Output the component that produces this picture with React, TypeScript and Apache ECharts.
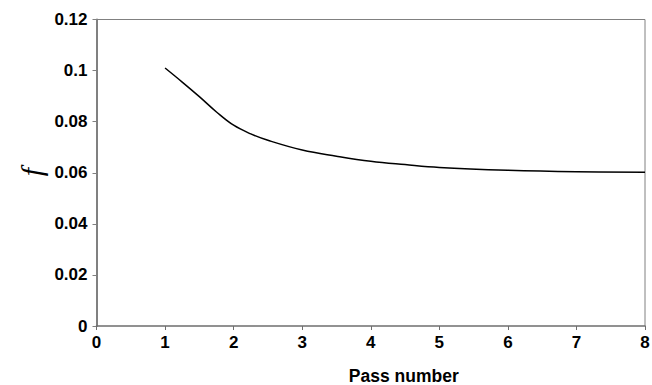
import React, { useEffect, useRef } from "react";
import * as echarts from "echarts";

const passNumbers = [1, 1.25, 1.5, 1.75, 2, 2.25, 2.5, 3, 3.5, 4, 4.5, 5, 6, 7, 8];
const fValues = [0.101, 0.0955, 0.0898, 0.0838, 0.0786, 0.0752, 0.0727, 0.0689, 0.0665, 0.0645, 0.0632, 0.0621, 0.061, 0.0604, 0.0602];
const xTicks = [0, 1, 2, 3, 4, 5, 6, 7, 8];
const yTicks = [0, 0.02, 0.04, 0.06, 0.08, 0.1, 0.12];

export default function App() {
  const ref = useRef<HTMLDivElement>(null);
  useEffect(() => {
    const chart = echarts.init(ref.current!, null, { renderer: "svg" });
    const labelStyle = {
      color: "#000",
      fontFamily: "Liberation Sans, Arial, sans-serif",
      fontWeight: "bold" as const,
      fontSize: 17,
    };
    chart.setOption({
      animation: false,
      backgroundColor: "#fff",
      grid: {
        left: 96.5,
        top: 19.5,
        right: 7,
        bottom: 59,
        show: false,
        containLabel: false,
        outerBoundsMode: "none",
      },
      xAxis: {
        type: "value",
        min: xTicks[0],
        max: xTicks[xTicks.length - 1],
        interval: 1,
        name: "Pass number",
        nameLocation: "middle",
        nameGap: 41,
        nameTextStyle: { ...labelStyle, fontSize: 17.5, padding: [0, 0, 0, 66] },
        axisLine: { show: true, onZero: false, lineStyle: { color: "#6e6e6e", width: 1.5 } },
        axisTick: { show: true, length: 4, lineStyle: { color: "#6e6e6e" } },
        axisLabel: { ...labelStyle, margin: 8, formatter: (v: number) => String(v) },
        splitLine: { show: false },
      },
      yAxis: {
        type: "value",
        min: yTicks[0],
        max: yTicks[yTicks.length - 1],
        interval: 0.02,
        axisLine: { show: true, onZero: false, lineStyle: { color: "#808080", width: 2 } },
        axisTick: { show: true, length: 4, lineStyle: { color: "#808080" } },
        axisLabel: { ...labelStyle, margin: 9, formatter: (v: number) => String(Number(v.toFixed(2))) },
        splitLine: { show: false },
      },
      graphic: [
        {
          type: "line",
          shape: { x1: 96.5, y1: 19.5, x2: 645, y2: 19.5 },
          style: { stroke: "#808080", lineWidth: 1 },
        },
        {
          type: "line",
          shape: { x1: 645, y1: 19.5, x2: 645, y2: 326 },
          style: { stroke: "#808080", lineWidth: 1 },
        },
        {
          type: "text",
          x: 31,
          y: 172,
          rotation: Math.PI / 2,
          style: {
            text: "f",
            fontFamily: "Liberation Serif, serif",
            fontStyle: "italic",
            fontSize: 30,
            fill: "#000",
            align: "center",
            verticalAlign: "middle",
          },
        },
      ],
      series: [
        {
          type: "line",
          data: passNumbers.map((x, i) => [x, fValues[i]]),
          smooth: 0.4,
          showSymbol: false,
          lineStyle: { color: "#000", width: 1.5 },
        },
      ],
    });
    return () => chart.dispose();
  }, []);
  return <div ref={ref} style={{ width: 652, height: 385, position: "absolute", left: 0, top: 0 }} />;
}
